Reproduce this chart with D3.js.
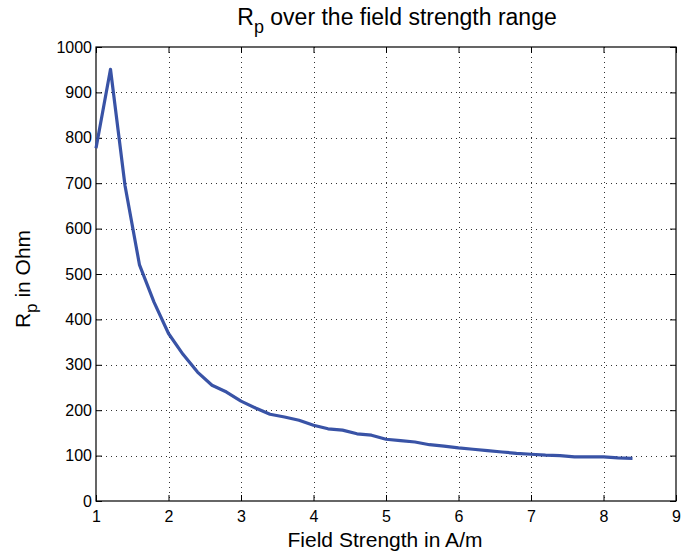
<!DOCTYPE html>
<html>
<head>
<meta charset="utf-8">
<script src="https://cdn.jsdelivr.net/npm/d3@7"></script>
<style>
  html, body { margin: 0; padding: 0; background: #fff; }
  svg { display: block; font-family: "Liberation Sans", Arial, Helvetica, sans-serif; }
</style>
</head>
<body>
<svg id="chart" width="681" height="556"></svg>
<script>
// Field strength (A/m) and parallel resistance Rp (Ohm)
const fieldStrength = [1.0, 1.2, 1.4, 1.6, 1.8, 2.0, 2.2, 2.4, 2.6, 2.8, 3.0, 3.2, 3.4, 3.6, 3.8,
  4.0, 4.2, 4.4, 4.6, 4.8, 5.0, 5.2, 5.4, 5.6, 5.8, 6.0, 6.2, 6.4, 6.6, 6.8, 7.0, 7.2, 7.4,
  7.6, 7.8, 8.0, 8.2, 8.4];
const rp = [777, 951, 695, 520, 438, 369, 323, 284, 255, 240, 220, 205, 191, 185, 178,
  167, 159, 156, 148, 145, 136, 133, 130, 124, 121, 117, 114, 111, 108, 105, 103, 101, 100,
  97, 97, 97, 95, 94];
const xTicks = [1, 2, 3, 4, 5, 6, 7, 8, 9];
const yTicks = [0, 100, 200, 300, 400, 500, 600, 700, 800, 900, 1000];

const svg = d3.select("#chart");
const plotL = 96, plotR = 676, plotT = 47, plotB = 501;

const x = d3.scaleLinear().domain([1, 9]).range([plotL, plotR]);
const y = d3.scaleLinear().domain([0, 1000]).range([plotB, plotT]);

// dotted grid
const grid = svg.append("g").attr("stroke", "#333").attr("stroke-width", 1)
  .attr("stroke-dasharray", "1,4").attr("shape-rendering", "crispEdges");
grid.selectAll(".vx").data(xTicks.slice(1, -1)).join("line")
  .attr("x1", d => Math.round(x(d)) + 0.5).attr("x2", d => Math.round(x(d)) + 0.5)
  .attr("y1", plotT).attr("y2", plotB);
grid.selectAll(".hy").data(yTicks.slice(1, -1)).join("line")
  .attr("x1", plotL).attr("x2", plotR)
  .attr("y1", d => Math.round(y(d)) + 0.5).attr("y2", d => Math.round(y(d)) + 0.5);

// axes with inward ticks on all four sides
const tickLen = 6;
const axB = svg.append("g").attr("transform", `translate(0,${plotB})`)
  .call(d3.axisBottom(x).tickValues(xTicks).tickSize(-tickLen).tickPadding(10).tickFormat(d3.format("d")));
const axT = svg.append("g").attr("transform", `translate(0,${plotT})`)
  .call(d3.axisTop(x).tickValues(xTicks).tickSize(-tickLen).tickFormat(""));
const axL = svg.append("g").attr("transform", `translate(${plotL},0)`)
  .call(d3.axisLeft(y).tickValues(yTicks).tickSize(-tickLen).tickPadding(4).tickFormat(d3.format("d")));
const axR = svg.append("g").attr("transform", `translate(${plotR},0)`)
  .call(d3.axisRight(y).tickValues(yTicks).tickSize(-tickLen).tickFormat(""));
[axB, axT, axL, axR].forEach(a => {
  a.select(".domain").remove();
  a.selectAll("line").attr("stroke", "#000");
  a.selectAll("text").attr("font-size", 16).attr("fill", "#000")
    .style("font-family", "'Liberation Sans', Arial, sans-serif");
});

// frame
svg.append("rect").attr("x", plotL).attr("y", plotT)
  .attr("width", plotR - plotL).attr("height", plotB - plotT)
  .attr("fill", "none").attr("stroke", "#000").attr("stroke-width", 1.2);

// Rp curve
const pts = fieldStrength.map((f, i) => [f, rp[i]]);
svg.append("path").datum(pts)
  .attr("fill", "none").attr("stroke", "#3953a6").attr("stroke-width", 3.2)
  .attr("stroke-linejoin", "round")
  .attr("d", d3.line().x(d => x(d[0])).y(d => y(d[1])));

// title
const title = svg.append("text").attr("x", 397).attr("y", 25)
  .attr("text-anchor", "middle").attr("font-size", 23).attr("fill", "#000");
title.append("tspan").text("R");
title.append("tspan").attr("font-size", 18).attr("dy", 8).text("p");
title.append("tspan").attr("dy", -8).text(" over the field strength range");

// x axis label
svg.append("text").attr("x", 385).attr("y", 547).attr("text-anchor", "middle")
  .attr("font-size", 21).attr("fill", "#000").text("Field Strength in A/m");

// y axis label
const yl = svg.append("text").attr("transform", `translate(30,279) rotate(-90)`)
  .attr("text-anchor", "middle").attr("font-size", 21).attr("fill", "#000");
yl.append("tspan").text("R");
yl.append("tspan").attr("font-size", 17).attr("dy", 7).text("p");
yl.append("tspan").attr("dy", -7).text(" in Ohm");
</script>
</body>
</html>
